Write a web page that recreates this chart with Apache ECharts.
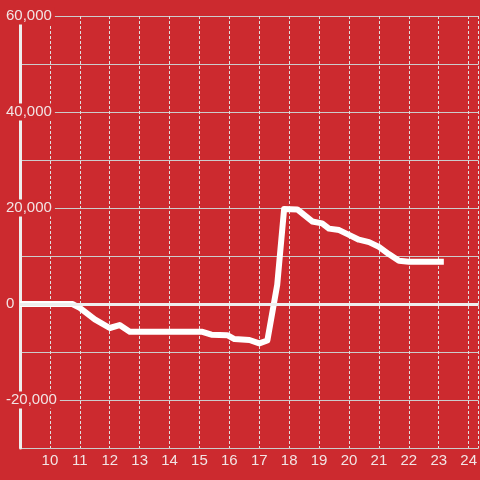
<!DOCTYPE html>
<html>
<head>
<meta charset="utf-8">
<script src="https://cdn.jsdelivr.net/npm/echarts@6/dist/echarts.min.js"></script>
<style>
  html, body { margin: 0; padding: 0; background: #cc2a2f; }
  #main { width: 480px; height: 480px; }
</style>
</head>
<body>
<div id="main"></div>
<script>
// hour of day
const hours = [9, 10.75, 11.0, 11.5, 12.0, 12.33, 12.67, 15.1, 15.4, 15.93, 16.17, 16.67, 17.0, 17.27,
  17.6, 17.83, 18.27, 18.77, 19.1, 19.33, 19.67, 20.0, 20.33, 20.67, 21.0, 21.33, 21.67, 22.0, 23.17];
const values = [0, 0, -800, -3200, -5000, -4400, -5800, -5800, -6400, -6500, -7300, -7500, -8200, -7600,
  4000, 19800, 19700, 17200, 16800, 15700, 15400, 14400, 13400, 12900, 11900, 10400, 9000, 8800, 8800];

const bg = "#cc2a2f";
let chart = echarts.init(document.getElementById("main"));
let option = {
  backgroundColor: bg,
  animation: false,
  grid: { left: 20, right: 0, top: 16, bottom: 32 },
  xAxis: {
    type: "value",
    min: 9,
    max: 9 + 460 / 30,
    interval: 1,
    axisLine: { show: false },
    axisTick: { show: false },
    axisLabel: {
      color: "#f2e4e4",
      fontSize: 15,
      fontFamily: "Liberation Sans",
      margin: 5,
      showMaxLabel: false,
      formatter: v => (v === 9 || v % 1 !== 0 ? "" : String(v))
    },
    splitLine: { show: true, lineStyle: { color: "#e0e0e0", width: 1, type: [3, 2] } }
  },
  yAxis: {
    type: "value",
    min: -30000,
    max: 60000,
    interval: 10000,
    axisLine: { show: true, lineStyle: { color: "#eeeeee", width: 3 } },
    axisTick: { show: false },
    axisLabel: {
      align: "left",
      margin: 14,
      formatter: v => (v % 20000 === 0 ? "{a|" + v.toLocaleString("en-US") + "}" : ""),
      rich: {
        a: {
          color: "#f2e4e4",
          fontSize: 15,
          fontFamily: "Liberation Sans",
          backgroundColor: bg,
          padding: [1, 3, 1, 0]
        }
      }
    },
    splitLine: { show: true, lineStyle: { color: "#cccccc", width: 1 } }
  },
  series: [
    {
      type: "line",
      data: hours.map((h, i) => [h, values[i]]),
      symbol: "none",
      lineStyle: { color: "#ffffff", width: 6, join: "round" },
      markLine: {
        silent: true,
        symbol: "none",
        label: { show: false },
        lineStyle: { color: "#eeeeee", width: 3, type: "solid" },
        data: [{ yAxis: 0 }]
      },
      z: 3
    }
  ]
};
chart.setOption(option);
</script>
</body>
</html>
